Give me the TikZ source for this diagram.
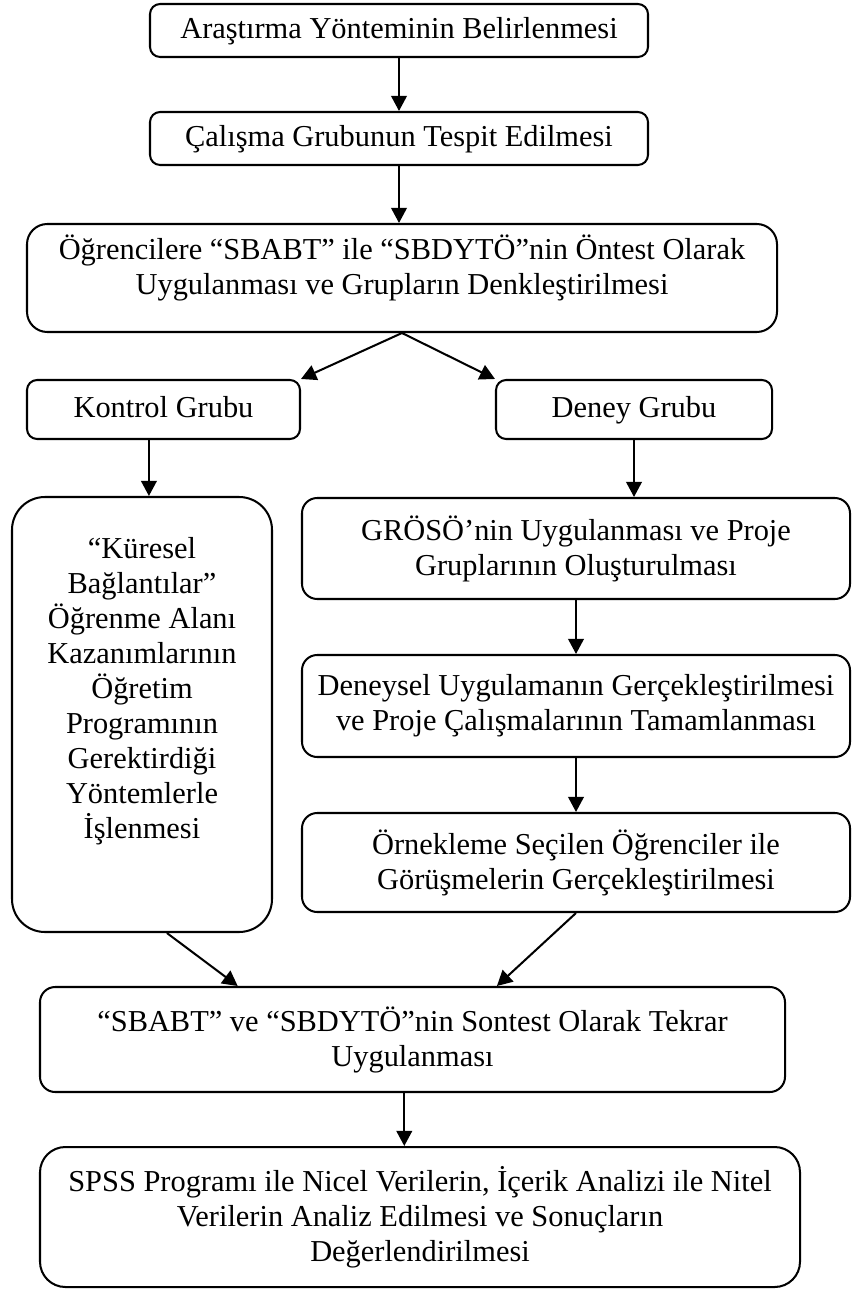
\documentclass[tikz,border=0pt]{standalone}
\usepackage{fontspec}
\setmainfont{Liberation Serif}
\usetikzlibrary{arrows.meta,calc}
\newlength\pxu
\setlength\pxu{0.3947pt}
\tikzset{
  box/.style={draw, line width=0.8pt, rounded corners=#1, align=center, inner sep=0pt,
    font=\fontsize{12pt}{13.8pt}\selectfont},
  box/.default=4pt,
  oneline/.style={text height=8.6pt, text depth=2.6pt},
  arr/.style={line width=0.8pt, -{Triangle[length=6pt,width=6.2pt]}}
}
\begin{document}
\begin{tikzpicture}[x=0.3947pt,y=-0.3947pt]
\useasboundingbox (0,0) rectangle (855,1291);
\node[box, oneline, minimum width=498\pxu, minimum height=53\pxu] (b1) at (399,30.5) {Araştırma Yönteminin Belirlenmesi};
\node[box, oneline, minimum width=498\pxu, minimum height=53\pxu] (b2) at (399,138.5) {Çalışma Grubunun Tespit Edilmesi};
\node[box=8pt, text depth=10.5pt, minimum width=750\pxu, minimum height=108\pxu] (b3) at (402,278) {Öğrencilere “SBABT” ile “SBDYTÖ”nin Öntest Olarak\\Uygulanması ve Grupların Denkleştirilmesi};
\node[box, oneline, minimum width=273\pxu, minimum height=59\pxu] (kon) at (163.5,409.5) {Kontrol Grubu};
\node[box, oneline, minimum width=276\pxu, minimum height=59\pxu] (den) at (634,409.5) {Deney Grubu};
\node[box=13pt, text depth=21pt, minimum width=260\pxu, minimum height=435\pxu] (big) at (142,714.5) {“Küresel\\Bağlantılar”\\Öğrenme Alanı\\Kazanımlarının\\Öğretim\\Programının\\Gerektirdiği\\Yöntemlerle\\İşlenmesi};
\node[box=6pt, minimum width=548\pxu, minimum height=101\pxu] (gro) at (576,548.5) {GRÖSÖ’nin Uygulanması ve Proje\\Gruplarının Oluşturulması};
\node[box=6pt, minimum width=548\pxu, minimum height=102\pxu] (dsl) at (576,706) {Deneysel Uygulamanın Gerçekleştirilmesi\\ve Proje Çalışmalarının Tamamlanması};
\node[box=6pt, minimum width=548\pxu, minimum height=99\pxu] (orn) at (576,862.5) {Örnekleme Seçilen Öğrenciler ile\\Görüşmelerin Gerçekleştirilmesi};
\node[box=6pt, minimum width=745\pxu, minimum height=105\pxu] (sba) at (412.5,1039.5) {“SBABT” ve “SBDYTÖ”nin Sontest Olarak Tekrar\\Uygulanması};
\node[box=10pt, minimum width=760\pxu, minimum height=140\pxu] (last) at (420,1217) {SPSS Programı ile Nicel Verilerin, İçerik Analizi ile Nitel\\Verilerin Analiz Edilmesi ve Sonuçların\\Değerlendirilmesi};
\draw[arr] (b1.south) -- (b2.north);
\draw[arr] (b2.south) -- (b2.south |- b3.north);
\draw[arr] (b3.south) -- (kon.north east);
\draw[arr] (b3.south) -- (den.north west);
\coordinate (ka) at ($(kon.south west)!0.447!(kon.south east)$);
\draw[arr] (ka) -- (ka |- big.north);
\draw[arr] (den.south) -- (den.south |- gro.north);
\draw[arr] (gro.south) -- (dsl.north);
\draw[arr] (dsl.south) -- (orn.north);
\draw[arr] ($(big.south west)!0.595!(big.south east)$) -- ($(sba.north west)!0.266!(sba.north east)$);
\draw[arr] (orn.south) -- ($(sba.north west)!0.613!(sba.north east)$);
\coordinate (sa) at ($(sba.south west)!0.489!(sba.south east)$);
\draw[arr] (sa) -- (sa |- last.north);
\end{tikzpicture}
\end{document}
